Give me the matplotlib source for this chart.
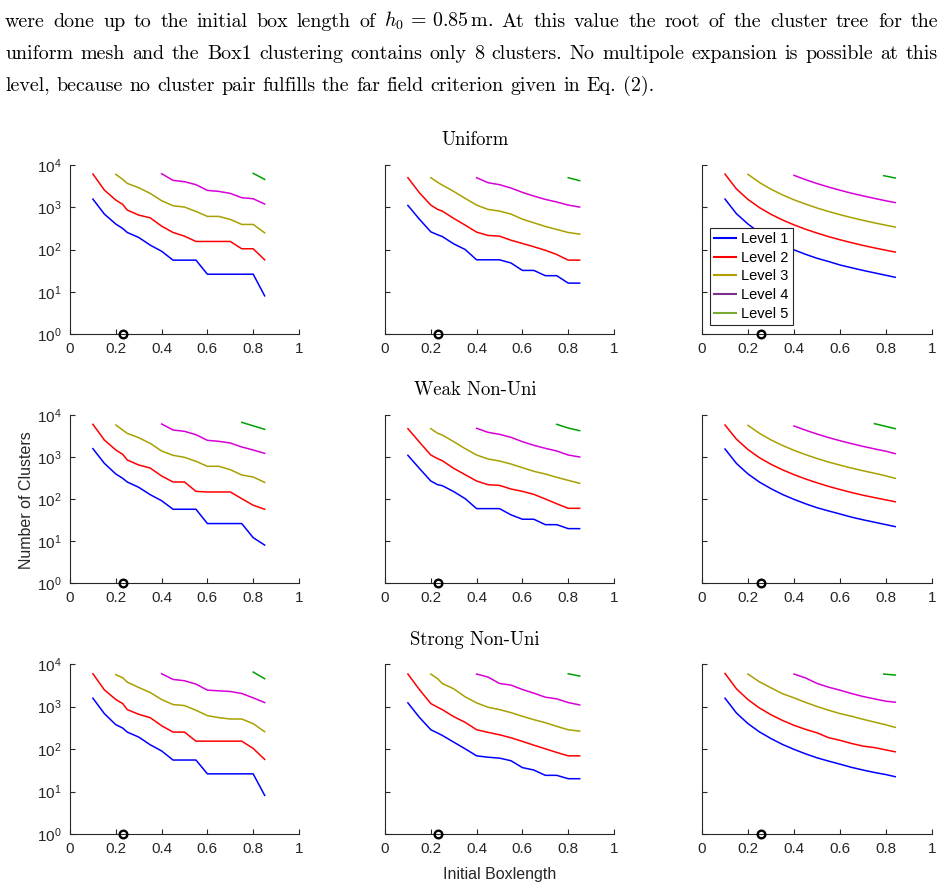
import matplotlib
matplotlib.use('Agg')
import matplotlib.pyplot as plt
from matplotlib.lines import Line2D
from matplotlib.ticker import NullLocator

# ---------------- data ----------------
X_A = [0.10, 0.15, 0.20, 0.23, 0.25, 0.30, 0.35, 0.40, 0.45, 0.50, 0.55,
       0.60, 0.65, 0.70, 0.75, 0.80, 0.85]
X_C = [0.10, 0.15, 0.20, 0.25, 0.30, 0.35, 0.40, 0.45, 0.50, 0.55, 0.60,
       0.65, 0.70, 0.75, 0.80, 0.84]
X_TICKS = [0, 0.2, 0.4, 0.6, 0.8, 1]
X_TICK_LABELS = ['0', '0.2', '0.4', '0.6', '0.8', '1']
Y_TICKS = [1, 10, 100, 1000, 10000]
Y_TICK_LABELS = ['$10^{0}$', '$10^{1}$', '$10^{2}$', '$10^{3}$', '$10^{4}$']
ROW_TITLES = ['Uniform', 'Weak Non-Uni', 'Strong Non-Uni']
LEVELS = ['Level 1', 'Level 2', 'Level 3', 'Level 4', 'Level 5']
CIRCLE_X = [0.23, 0.23, 0.255]

# Uniform
UNI_A_L1 = [1560, 690, 400, 315, 253, 193, 127, 91, 56, 56, 56, 26, 26, 26, 26, 26, 8]
UNI_A_L2 = [6120, 2550, 1480, 1170, 857, 652, 564, 357, 253, 207, 155, 155, 155, 155, 104, 104, 57]
UNI_A_L3 = [6010, 4570, 3675, 2900, 2130, 1430, 1085, 1010, 797, 607, 607, 515, 392, 392, 248]
UNI_A_L4 = [6230, 4330, 4025, 3420, 2505, 2370, 2130, 1680, 1590, 1190]
UNI_A_L5X = [0.80, 0.85]
UNI_A_L5 = [6340, 4570]

UNI_B_L1 = [1105, 523, 262, 223, 203, 136, 100, 57, 57, 57, 48, 32, 32, 24, 24, 16, 16]
UNI_B_L2 = [5010, 2210, 1125, 889, 812, 544, 378, 258, 215, 207, 166, 139, 116, 96, 76, 56, 56]
UNI_B_L3 = [5010, 3880, 3355, 2370, 1620, 1125, 889, 812, 689, 523, 428, 351, 298, 253, 231]
UNI_B_L4 = [5010, 3810, 3420, 2850, 2250, 1840, 1535, 1330, 1125, 1010]
UNI_B_L5X = [0.80, 0.85]
UNI_B_L5 = [5010, 4250]

UNI_C_L1 = [1560, 700, 400, 250, 175, 128, 98, 77, 62, 52, 43, 37, 32, 28, 24.5, 22]
UNI_C_L2 = [6100, 2700, 1530, 980, 680, 500, 383, 302, 245, 202, 170, 145, 125, 109, 96, 87]
UNI_C_L3 = [6000, 3850, 2670, 1960, 1500, 1190, 960, 795, 667, 568, 490, 427, 375, 340]
UNI_C_L4 = [5690, 4500, 3640, 3010, 2530, 2150, 1860, 1620, 1420, 1290]
UNI_C_L5X = [0.79, 0.84]
UNI_C_L5 = [5590, 4920]

# Weak non-uniform
WEAK_A_L1 = [1580, 707, 394, 311, 254, 190, 127, 91, 57, 57, 57, 26, 26, 26, 26, 12, 8]
WEAK_A_L2 = [6000, 2540, 1470, 1157, 849, 645, 547, 353, 254, 254, 152, 147, 147, 147, 102, 71, 57]
WEAK_A_L3 = [5780, 4395, 3660, 2885, 2115, 1390, 1096, 982, 789, 600, 600, 499, 373, 334, 249]
WEAK_A_L4 = [6110, 4395, 4085, 3400, 2495, 2360, 2155, 1730, 1468, 1222]
WEAK_A_L5X = [0.75, 0.85]
WEAK_A_L5 = [6690, 4560]

WEAK_B_L1 = [1096, 537, 268, 219, 208, 150, 102, 59, 59, 59, 42, 33, 33, 24.5, 24.5, 19.7, 19.7]
WEAK_B_L2 = [4730, 2275, 1116, 913, 818, 537, 379, 268, 219, 211, 173, 152, 129, 100, 77, 60, 60]
WEAK_B_L3 = [4730, 3660, 3340, 2316, 1580, 1116, 896, 803, 681, 557, 456, 394, 328, 278, 236]
WEAK_B_L4 = [4820, 3866, 3467, 2941, 2316, 1896, 1608, 1390, 1116, 1000]
WEAK_B_L5X = [0.75, 0.80, 0.85]
WEAK_B_L5 = [6000, 4900, 4235]

WEAK_C_L1 = [1550, 700, 395, 252, 176, 128, 98, 77, 62, 52, 44, 37, 32, 28, 24.5, 22]
WEAK_C_L2 = [5780, 2650, 1500, 960, 670, 495, 380, 300, 243, 200, 168, 143, 123, 108, 95, 86]
WEAK_C_L3 = [5670, 3650, 2550, 1880, 1440, 1140, 920, 760, 640, 545, 470, 410, 355, 311]
WEAK_C_L4 = [5470, 4350, 3520, 2900, 2440, 2080, 1790, 1560, 1370, 1200]
WEAK_C_L5X = [0.75, 0.84]
WEAK_C_L5 = [6220, 4730]

# Strong non-uniform
STRONG_A_L1 = [1568, 680, 373, 311, 250, 191, 126, 90, 55, 55, 55, 26, 26, 26, 26, 26, 8.1]
STRONG_A_L2 = [5900, 2470, 1458, 1172, 845, 656, 547, 353, 250, 250, 153, 153, 153, 153, 153, 103, 57]
STRONG_A_L3 = [5595, 4750, 3750, 2805, 2135, 1458, 1110, 1052, 815, 610, 547, 508, 508, 394, 255]
STRONG_A_L4 = [5900, 4335, 4035, 3365, 2425, 2340, 2255, 2023, 1597, 1238]
STRONG_A_L5X = [0.80, 0.85]
STRONG_A_L5 = [6470, 4500]

STRONG_B_L1 = [1216, 557, 284, 237, 209, 145, 101, 69, 64, 61, 53, 36.5, 32, 24, 24, 20, 20]
STRONG_B_L2 = [5800, 2515, 1172, 960, 845, 577, 424, 284, 246, 216, 184, 151, 123, 101, 83, 69, 69]
STRONG_B_L3 = [5800, 4500, 3485, 2610, 1687, 1216, 960, 845, 718, 588, 490, 416, 341, 284, 264]
STRONG_B_L4 = [5800, 4920, 3485, 3185, 2515, 2060, 1655, 1513, 1238, 1090]
STRONG_B_L5X = [0.80, 0.85]
STRONG_B_L5 = [5900, 5200]

STRONG_C_L1 = [1568, 700, 395, 252, 176, 128, 98, 77, 62, 52, 44, 37, 32, 28, 25, 22.3]
STRONG_C_L2 = [6000, 2600, 1450, 920, 640, 470, 360, 290, 240, 185, 160, 135, 117, 108, 95, 86]
STRONG_C_L3 = [5800, 3800, 2750, 2000, 1600, 1250, 1000, 820, 680, 590, 500, 430, 370, 323]
STRONG_C_L4 = [5800, 4700, 3500, 2850, 2420, 2020, 1720, 1510, 1330, 1262]
STRONG_C_L5X = [0.79, 0.84]
STRONG_C_L5 = [5800, 5490]

PARAGRAPH = [
    "were done up to the initial box length of $h_0\\,=\\,0.85\\,\\mathrm{m}$. At this value the root of the cluster tree for the",
    "uniform mesh and the Box1 clustering contains only 8 clusters. No multipole expansion is possible at this",
    "level, because no cluster pair fulfills the far field criterion given in Eq. (2).",
]

# ---------------- style ----------------
plt.rcParams['font.family'] = ['Liberation Sans', 'DejaVu Sans']
plt.rcParams['mathtext.fontset'] = 'custom'
plt.rcParams['mathtext.rm'] = 'Liberation Sans'
plt.rcParams['mathtext.it'] = 'Liberation Sans:italic'
plt.rcParams['mathtext.bf'] = 'Liberation Sans:bold'

LINE_COLORS = ['#0000ff', '#ff0000', '#a8a000', '#d800d8', '#00a000']
LEGEND_COLORS = ['#0000ff', '#ff0000', '#b0a000', '#7e2f8e', '#77ac30']
AX_COLOR = '#262626'

W, H = 944, 891
fig = plt.figure(figsize=(W / 100, H / 100), dpi=100)

COL_PX = [(70, 299), (385, 614), (702, 932)]
ROW_PX = [(165, 334), (415, 583), (664, 834)]

panels = [
    [(X_A, [UNI_A_L1, UNI_A_L2, UNI_A_L3, UNI_A_L4], UNI_A_L5X, UNI_A_L5),
     (X_A, [UNI_B_L1, UNI_B_L2, UNI_B_L3, UNI_B_L4], UNI_B_L5X, UNI_B_L5),
     (X_C, [UNI_C_L1, UNI_C_L2, UNI_C_L3, UNI_C_L4], UNI_C_L5X, UNI_C_L5)],
    [(X_A, [WEAK_A_L1, WEAK_A_L2, WEAK_A_L3, WEAK_A_L4], WEAK_A_L5X, WEAK_A_L5),
     (X_A, [WEAK_B_L1, WEAK_B_L2, WEAK_B_L3, WEAK_B_L4], WEAK_B_L5X, WEAK_B_L5),
     (X_C, [WEAK_C_L1, WEAK_C_L2, WEAK_C_L3, WEAK_C_L4], WEAK_C_L5X, WEAK_C_L5)],
    [(X_A, [STRONG_A_L1, STRONG_A_L2, STRONG_A_L3, STRONG_A_L4], STRONG_A_L5X, STRONG_A_L5),
     (X_A, [STRONG_B_L1, STRONG_B_L2, STRONG_B_L3, STRONG_B_L4], STRONG_B_L5X, STRONG_B_L5),
     (X_C, [STRONG_C_L1, STRONG_C_L2, STRONG_C_L3, STRONG_C_L4], STRONG_C_L5X, STRONG_C_L5)],
]

for r in range(3):
    for c in range(3):
        x0, x1 = COL_PX[c]
        y0, y1 = ROW_PX[r]
        ax = fig.add_axes([x0 / W, 1 - y1 / H, (x1 - x0) / W, (y1 - y0) / H])
        xs, levels, l5x, l5 = panels[r][c]
        for i, vals in enumerate(levels):
            ax.plot(xs[len(xs) - len(vals):], vals, color=LINE_COLORS[i], lw=1.1)
        ax.plot(l5x, l5, color=LINE_COLORS[4], lw=1.1)
        ax.plot([CIRCLE_X[c]], [1], 'o', mfc='none', mec='black', mew=1.7,
                ms=5.5, clip_on=False, zorder=6)
        ax.set_yscale('log')
        ax.set_xlim(0, 1)
        ax.set_ylim(1, 1e4)
        ax.yaxis.set_minor_locator(NullLocator())
        ax.set_yticks(Y_TICKS)
        ax.set_yticklabels(Y_TICK_LABELS if c == 0 else [])
        ax.set_xticks(X_TICKS)
        ax.set_xticklabels(X_TICK_LABELS)
        for s in ('top', 'right'):
            ax.spines[s].set_visible(False)
        for s in ('left', 'bottom'):
            ax.spines[s].set_color(AX_COLOR)
            ax.spines[s].set_linewidth(0.8)
        ax.tick_params(direction='in', length=3.5, width=0.8, color=AX_COLOR,
                       labelcolor=AX_COLOR, labelsize=11, pad=6)
        ax.patch.set_alpha(0)
        if r == 0 and c == 2:
            handles = [Line2D([], [], color=col, lw=1.5) for col in LEGEND_COLORS]
            leg = ax.legend(handles, LEVELS, loc='lower left',
                            bbox_to_anchor=(0.035, 0.053), frameon=True,
                            fancybox=False, edgecolor=AX_COLOR, framealpha=1,
                            fontsize=10.5, handlelength=1.5, handletextpad=0.35,
                            borderpad=0.3, labelspacing=0.32, borderaxespad=0)
            leg.get_frame().set_linewidth(0.8)
            leg.set_zorder(10)

# row titles
for r, t in enumerate(ROW_TITLES):
    fig.text(475 / W, 1 - [140, 390, 640][r] / H, t, ha='center', va='center',
             family='cmr10', fontsize=13.5, color='black')

fig.text(27 / W, 1 - 500 / H, 'Number of Clusters', rotation=90, ha='center',
         va='center', fontsize=11.5, color=AX_COLOR)
fig.text(500 / W, 1 - 875 / H, 'Initial Boxlength', ha='center', va='center',
         fontsize=11.5, color=AX_COLOR)

# paragraph text (justified)
renderer = fig.canvas.get_renderer()
BASELINES = [27, 59, 91]
PSIZE = 14.4
for li, line in enumerate(PARAGRAPH):
    words = line.split(' ')
    texts = [fig.text(0, 1 - BASELINES[li] / H, w, family='cmr10',
                      math_fontfamily='cm', fontsize=PSIZE, va='baseline',
                      ha='left', color='black') for w in words]
    widths = [t.get_window_extent(renderer).width for t in texts]
    left, right = 5, 938
    if li < 2:
        gap = (right - left - sum(widths)) / (len(words) - 1)
    else:
        gap = PSIZE * 0.333 * 100 / 72
    x = left
    for t, w in zip(texts, widths):
        t.set_x(x / W)
        x += w + gap

fig.savefig('out.png', dpi=100)
